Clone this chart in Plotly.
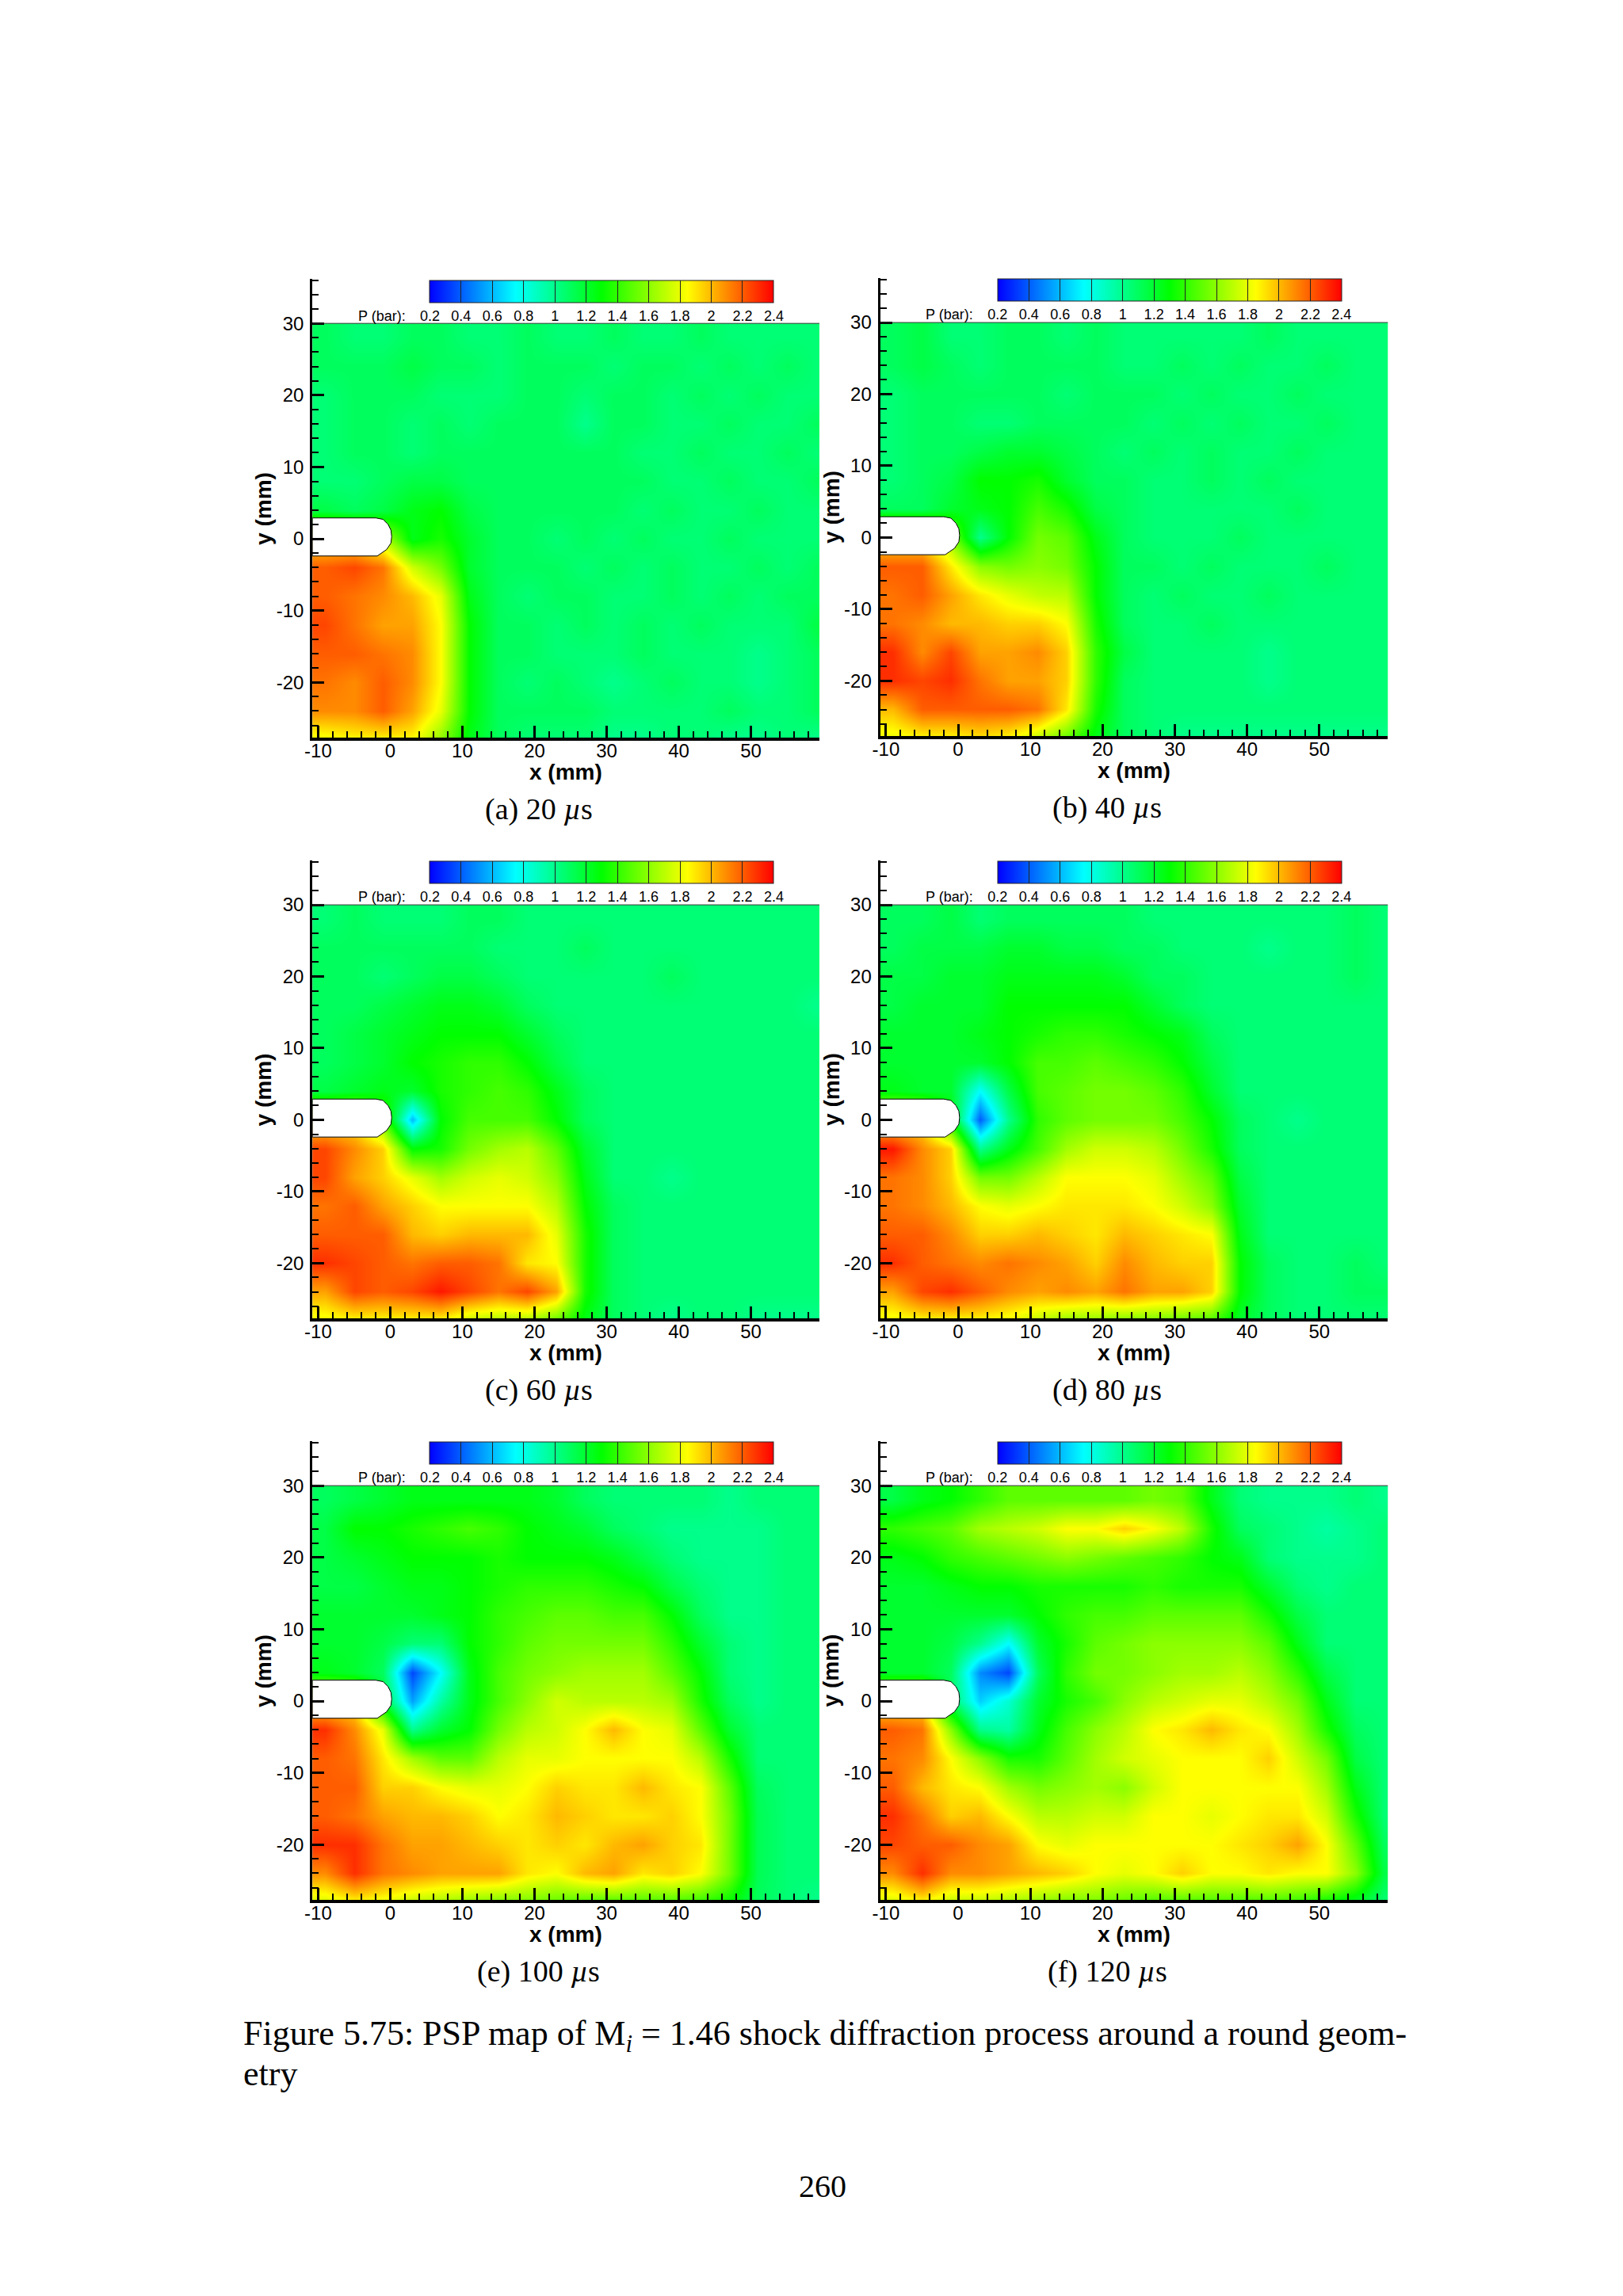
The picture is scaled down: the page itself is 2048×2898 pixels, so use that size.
import plotly.graph_objects as go

# page size, the browser adds a margin around the figure (offsets measured from the first render)
PAGE_W = 2032
PAGE_H = 2882
PAD_X = 15
PAD_Y = 8

# grid centres of the pressure maps (mm), rows go top to bottom
X_MM = [-9, -5, -1, 3, 7, 11, 15, 19, 23, 27, 31, 35, 39, 43, 47, 51, 55, 59]
Y_MM = [28, 24, 20, 16, 12, 8, 4, 0, -4, -8, -12, -16, -20, -24, -28]

#P (bar) (a) 20 us
P_20US = [
    [1.1, 1.05, 1.05, 1.1, 1.1, 1.05, 1.05, 1.1, 1.05, 1.05, 1.1, 1.05, 1.05, 1.1, 1.05, 1.05, 1.05, 1.05],
    [1.1, 1.1, 1.1, 1.15, 1.1, 1.1, 1.05, 1.1, 1.1, 1.1, 1.05, 1.1, 1.1, 1.05, 1.1, 1.05, 1.1, 1.05],
    [1.05, 1.1, 1.1, 1.1, 1.05, 1.05, 1.05, 1.1, 1.1, 1.05, 1.1, 1.1, 1.05, 1.1, 1.05, 1.1, 1.05, 1.05],
    [1.05, 1.1, 1.1, 1.05, 1.1, 1.05, 1.1, 1.1, 1.1, 1.0, 1.1, 1.1, 1.05, 1.05, 1.1, 1.05, 1.05, 1.1],
    [1.05, 1.1, 1.1, 1.05, 1.1, 1.1, 1.1, 1.1, 1.1, 1.1, 1.1, 1.05, 1.05, 1.1, 1.05, 1.05, 1.1, 1.05],
    [1.05, 1.05, 1.1, 1.15, 1.15, 1.1, 1.1, 1.1, 1.1, 1.1, 1.1, 1.1, 1.05, 1.05, 1.1, 1.05, 1.05, 1.1],
    [1.15, 1.1, 1.15, 1.25, 1.3, 1.15, 1.1, 1.1, 1.1, 1.1, 1.1, 1.05, 1.1, 1.05, 1.05, 1.1, 1.05, 1.05],
    [1.9, 1.9, 1.7, 1.25, 1.35, 1.2, 1.1, 1.1, 1.05, 1.1, 1.05, 1.1, 1.05, 1.05, 1.1, 1.05, 1.05, 1.05],
    [2.2, 2.25, 2.15, 1.75, 1.55, 1.2, 1.1, 1.1, 1.1, 1.05, 1.1, 1.05, 1.1, 1.05, 1.05, 1.1, 1.05, 1.1],
    [2.2, 2.15, 2.1, 2.0, 1.8, 1.25, 1.1, 1.05, 1.1, 1.1, 1.05, 1.05, 1.1, 1.05, 1.1, 1.05, 1.1, 1.1],
    [2.25, 2.15, 2.05, 2.05, 1.85, 1.3, 1.1, 1.1, 1.05, 1.1, 1.05, 1.1, 1.05, 1.1, 1.05, 1.05, 1.05, 1.15],
    [2.2, 2.2, 2.15, 2.1, 1.85, 1.3, 1.1, 1.1, 1.05, 1.05, 1.05, 1.1, 1.05, 1.05, 1.05, 1.0, 1.05, 1.1],
    [2.15, 2.1, 2.2, 2.1, 1.85, 1.3, 1.1, 1.05, 1.1, 1.05, 1.0, 1.05, 1.1, 1.05, 1.05, 1.0, 1.05, 1.1],
    [2.1, 2.1, 2.2, 2.05, 1.8, 1.3, 1.1, 1.1, 1.1, 1.1, 1.05, 1.05, 1.05, 1.05, 1.1, 1.05, 1.05, 1.1],
    [1.8, 1.85, 1.85, 1.85, 1.6, 1.25, 1.1, 1.05, 1.05, 1.05, 1.0, 1.0, 1.05, 1.05, 1.0, 1.0, 1.05, 1.0],
]

#P (bar) (b) 40 us
P_40US = [
    [1.1, 1.15, 1.05, 1.05, 1.1, 1.1, 1.05, 1.1, 1.05, 1.05, 1.05, 1.05, 1.05, 1.1, 1.05, 1.05, 1.05, 1.05],
    [1.1, 1.15, 1.1, 1.05, 1.1, 1.1, 1.1, 1.1, 1.05, 1.05, 1.1, 1.05, 1.1, 1.05, 1.05, 1.1, 1.05, 1.05],
    [1.05, 1.1, 1.1, 1.1, 1.1, 1.1, 1.05, 1.1, 1.1, 1.1, 1.05, 1.1, 1.05, 1.05, 1.1, 1.05, 1.05, 1.05],
    [1.05, 1.1, 1.1, 1.05, 1.05, 1.1, 1.1, 1.1, 1.1, 1.05, 1.1, 1.05, 1.1, 1.05, 1.05, 1.1, 1.05, 1.05],
    [1.05, 1.1, 1.1, 1.15, 1.2, 1.2, 1.15, 1.1, 1.05, 1.1, 1.05, 1.1, 1.05, 1.05, 1.1, 1.05, 1.05, 1.05],
    [1.05, 1.1, 1.15, 1.3, 1.3, 1.35, 1.2, 1.1, 1.1, 1.05, 1.05, 1.1, 1.05, 1.1, 1.05, 1.05, 1.05, 1.05],
    [1.1, 1.1, 1.2, 1.25, 1.3, 1.45, 1.35, 1.15, 1.1, 1.05, 1.05, 1.05, 1.05, 1.05, 1.1, 1.05, 1.05, 1.05],
    [1.9, 1.9, 1.6, 1.0, 1.3, 1.55, 1.5, 1.25, 1.1, 1.05, 1.05, 1.05, 1.1, 1.05, 1.05, 1.05, 1.05, 1.05],
    [2.2, 2.2, 1.9, 1.6, 1.55, 1.6, 1.55, 1.3, 1.1, 1.1, 1.05, 1.1, 1.05, 1.05, 1.05, 1.1, 1.05, 1.05],
    [2.15, 2.2, 2.05, 1.9, 1.8, 1.72, 1.7, 1.3, 1.1, 1.05, 1.1, 1.05, 1.05, 1.1, 1.05, 1.05, 1.05, 1.05],
    [2.15, 2.1, 2.0, 2.0, 1.95, 1.95, 1.85, 1.35, 1.1, 1.05, 1.05, 1.1, 1.05, 1.05, 1.05, 1.05, 1.05, 1.05],
    [2.3, 2.1, 2.25, 2.05, 2.05, 2.1, 1.95, 1.4, 1.15, 1.05, 1.05, 1.05, 1.05, 1.0, 1.05, 1.05, 1.05, 1.05],
    [2.3, 2.25, 2.3, 2.15, 2.05, 2.05, 1.95, 1.4, 1.1, 1.05, 1.05, 1.05, 1.05, 1.0, 1.05, 1.05, 1.05, 1.05],
    [2.0, 2.2, 2.2, 2.2, 2.2, 2.15, 1.9, 1.35, 1.1, 1.05, 1.05, 1.05, 1.05, 1.05, 1.05, 1.05, 1.05, 1.05],
    [1.8, 1.85, 1.85, 1.9, 1.85, 1.7, 1.5, 1.25, 1.1, 1.05, 1.0, 1.0, 1.0, 1.0, 1.0, 1.0, 1.0, 1.0],
]

#P (bar) (c) 60 us
P_60US = [
    [1.05, 1.1, 1.05, 1.05, 1.05, 1.1, 1.1, 1.05, 1.05, 1.05, 1.05, 1.05, 1.05, 1.05, 1.05, 1.05, 1.05, 1.05],
    [1.1, 1.1, 1.1, 1.1, 1.1, 1.1, 1.05, 1.05, 1.05, 1.1, 1.05, 1.05, 1.05, 1.05, 1.05, 1.05, 1.05, 1.05],
    [1.1, 1.1, 1.05, 1.1, 1.15, 1.15, 1.1, 1.05, 1.05, 1.05, 1.05, 1.05, 1.1, 1.05, 1.05, 1.05, 1.05, 1.05],
    [1.1, 1.1, 1.15, 1.2, 1.25, 1.25, 1.2, 1.1, 1.05, 1.05, 1.05, 1.05, 1.05, 1.05, 1.05, 1.05, 1.05, 1.0],
    [1.1, 1.15, 1.2, 1.25, 1.3, 1.3, 1.3, 1.2, 1.1, 1.05, 1.05, 1.05, 1.05, 1.05, 1.05, 1.05, 1.05, 1.05],
    [1.1, 1.15, 1.2, 1.3, 1.35, 1.4, 1.4, 1.3, 1.15, 1.05, 1.05, 1.05, 1.05, 1.05, 1.05, 1.05, 1.05, 1.05],
    [1.15, 1.2, 1.25, 1.2, 1.35, 1.4, 1.45, 1.4, 1.25, 1.1, 1.05, 1.05, 1.05, 1.05, 1.05, 1.05, 1.05, 1.05],
    [1.9, 1.9, 1.5, 0.6, 1.3, 1.45, 1.45, 1.45, 1.3, 1.1, 1.05, 1.05, 1.05, 1.05, 1.05, 1.05, 1.05, 1.05],
    [2.25, 2.1, 1.95, 1.3, 1.35, 1.55, 1.65, 1.7, 1.5, 1.2, 1.05, 1.05, 1.05, 1.05, 1.05, 1.05, 1.05, 1.05],
    [2.25, 2.05, 1.95, 1.8, 1.65, 1.75, 1.8, 1.75, 1.6, 1.25, 1.05, 1.05, 1.0, 1.05, 1.05, 1.05, 1.05, 1.05],
    [2.15, 2.2, 2.05, 1.95, 1.85, 1.85, 1.85, 1.85, 1.7, 1.3, 1.1, 1.05, 1.05, 1.05, 1.05, 1.05, 1.05, 1.05],
    [2.2, 2.2, 2.2, 2.0, 1.95, 2.0, 2.0, 2.0, 1.8, 1.35, 1.1, 1.05, 1.05, 1.05, 1.05, 1.05, 1.05, 1.05],
    [2.3, 2.25, 2.2, 2.15, 2.2, 2.2, 2.15, 1.9, 1.85, 1.35, 1.1, 1.05, 1.05, 1.05, 1.05, 1.05, 1.05, 1.05],
    [2.05, 2.25, 2.2, 2.25, 2.35, 2.25, 2.15, 2.25, 2.05, 1.35, 1.1, 1.05, 1.05, 1.05, 1.05, 1.05, 1.05, 1.05],
    [1.8, 1.85, 1.85, 1.85, 1.85, 1.7, 1.65, 1.65, 1.5, 1.25, 1.1, 1.05, 1.0, 1.05, 1.05, 1.0, 1.0, 1.0],
]

#P (bar) (d) 80 us
P_80US = [
    [1.1, 1.1, 1.15, 1.05, 1.1, 1.1, 1.1, 1.1, 1.1, 1.05, 1.05, 1.05, 1.05, 1.05, 1.05, 1.05, 1.1, 1.05],
    [1.1, 1.15, 1.15, 1.15, 1.2, 1.2, 1.15, 1.15, 1.1, 1.1, 1.05, 1.05, 1.05, 1.0, 1.05, 1.05, 1.1, 1.05],
    [1.15, 1.15, 1.2, 1.2, 1.25, 1.25, 1.25, 1.25, 1.2, 1.1, 1.1, 1.05, 1.05, 1.05, 1.05, 1.05, 1.1, 1.05],
    [1.15, 1.2, 1.2, 1.2, 1.3, 1.3, 1.3, 1.3, 1.3, 1.2, 1.1, 1.05, 1.05, 1.05, 1.05, 1.05, 1.05, 1.05],
    [1.2, 1.2, 1.2, 1.25, 1.3, 1.35, 1.4, 1.4, 1.35, 1.3, 1.25, 1.1, 1.05, 1.05, 1.05, 1.05, 1.05, 1.05],
    [1.2, 1.2, 1.2, 1.2, 1.3, 1.45, 1.45, 1.5, 1.45, 1.4, 1.3, 1.15, 1.05, 1.05, 1.05, 1.05, 1.05, 1.05],
    [1.25, 1.2, 1.2, 0.75, 1.15, 1.45, 1.5, 1.55, 1.55, 1.5, 1.4, 1.2, 1.05, 1.05, 1.05, 1.05, 1.05, 1.05],
    [1.9, 1.9, 1.3, 0.4, 1.0, 1.4, 1.5, 1.55, 1.55, 1.55, 1.45, 1.3, 1.1, 1.05, 1.0, 1.05, 1.05, 1.05],
    [2.35, 2.1, 1.95, 1.0, 1.25, 1.45, 1.65, 1.75, 1.75, 1.7, 1.55, 1.35, 1.1, 1.05, 1.05, 1.05, 1.05, 1.05],
    [2.15, 2.1, 1.95, 1.55, 1.55, 1.7, 1.85, 1.85, 1.85, 1.8, 1.65, 1.5, 1.15, 1.05, 1.05, 1.05, 1.05, 1.05],
    [2.15, 2.1, 2.0, 1.85, 1.8, 1.85, 1.9, 1.9, 1.9, 1.85, 1.75, 1.6, 1.2, 1.05, 1.05, 1.05, 1.05, 1.05],
    [2.2, 2.2, 2.1, 1.95, 1.95, 2.0, 1.95, 1.9, 2.0, 1.95, 1.9, 1.85, 1.25, 1.05, 1.05, 1.05, 1.05, 1.05],
    [2.3, 2.2, 2.15, 2.1, 2.15, 2.1, 2.05, 1.95, 2.1, 2.0, 1.95, 1.95, 1.3, 1.1, 1.05, 1.05, 1.1, 1.05],
    [2.05, 2.25, 2.3, 2.2, 2.1, 2.05, 2.1, 2.05, 2.15, 2.05, 2.05, 1.95, 1.3, 1.1, 1.05, 1.05, 1.1, 1.1],
    [1.8, 1.85, 1.85, 1.85, 1.8, 1.7, 1.6, 1.6, 1.55, 1.55, 1.5, 1.45, 1.2, 1.1, 1.05, 1.05, 1.05, 1.05],
]

#P (bar) (e) 100 us
P_100US = [
    [1.1, 1.15, 1.2, 1.25, 1.25, 1.25, 1.25, 1.25, 1.2, 1.1, 1.05, 1.05, 1.05, 1.05, 1.0, 1.05, 1.05, 1.05],
    [1.15, 1.3, 1.3, 1.35, 1.4, 1.45, 1.4, 1.3, 1.25, 1.2, 1.1, 1.05, 1.0, 1.0, 1.0, 1.0, 1.05, 1.05],
    [1.15, 1.2, 1.25, 1.3, 1.3, 1.3, 1.35, 1.3, 1.3, 1.3, 1.25, 1.15, 1.05, 1.0, 1.0, 1.0, 1.05, 1.05],
    [1.15, 1.15, 1.2, 1.25, 1.25, 1.3, 1.35, 1.4, 1.4, 1.4, 1.35, 1.3, 1.15, 1.05, 1.0, 1.0, 1.05, 1.05],
    [1.2, 1.2, 1.2, 1.2, 1.25, 1.3, 1.4, 1.45, 1.5, 1.5, 1.45, 1.45, 1.3, 1.1, 1.0, 1.0, 1.05, 1.05],
    [1.2, 1.2, 1.15, 1.05, 1.05, 1.3, 1.4, 1.5, 1.55, 1.55, 1.55, 1.55, 1.4, 1.2, 1.05, 1.0, 1.05, 1.05],
    [1.25, 1.2, 1.1, 0.35, 0.75, 1.25, 1.45, 1.55, 1.6, 1.65, 1.65, 1.65, 1.5, 1.3, 1.05, 1.0, 1.05, 1.05],
    [1.9, 1.9, 1.2, 0.55, 0.95, 1.25, 1.45, 1.6, 1.75, 1.7, 1.7, 1.7, 1.65, 1.35, 1.1, 1.0, 1.05, 1.05],
    [2.3, 2.1, 1.8, 1.0, 1.2, 1.3, 1.55, 1.7, 1.75, 1.85, 2.0, 1.85, 1.8, 1.5, 1.2, 1.05, 1.05, 1.05],
    [2.2, 2.15, 1.9, 1.65, 1.5, 1.5, 1.7, 1.8, 1.8, 1.85, 1.85, 1.85, 1.85, 1.7, 1.35, 1.05, 1.05, 1.05],
    [2.2, 2.2, 1.95, 1.95, 1.85, 1.8, 1.8, 1.85, 1.95, 1.9, 1.9, 2.0, 1.9, 1.85, 1.5, 1.1, 1.05, 1.05],
    [2.2, 2.15, 2.05, 2.0, 2.0, 1.95, 1.85, 1.9, 2.0, 1.95, 1.9, 1.9, 1.95, 1.85, 1.55, 1.12, 1.05, 1.05],
    [2.3, 2.3, 2.15, 2.05, 2.05, 2.0, 1.95, 1.9, 1.95, 1.9, 2.0, 2.05, 1.95, 1.9, 1.55, 1.12, 1.05, 1.05],
    [2.1, 2.3, 2.15, 2.1, 2.05, 2.05, 2.05, 1.9, 1.85, 2.0, 2.05, 1.9, 1.95, 1.85, 1.55, 1.12, 1.05, 1.05],
    [1.75, 1.85, 1.8, 1.7, 1.65, 1.6, 1.55, 1.55, 1.5, 1.45, 1.45, 1.45, 1.45, 1.4, 1.3, 1.1, 1.05, 1.0],
]

#P (bar) (f) 120 us
P_120US = [
    [1.15, 1.25, 1.3, 1.4, 1.5, 1.5, 1.5, 1.5, 1.5, 1.55, 1.5, 1.25, 1.05, 1.0, 1.0, 1.0, 1.05, 1.0],
    [1.4, 1.45, 1.5, 1.65, 1.7, 1.75, 1.85, 1.85, 1.95, 1.85, 1.7, 1.35, 1.1, 1.05, 1.0, 0.95, 1.0, 1.05],
    [1.25, 1.3, 1.4, 1.45, 1.5, 1.55, 1.6, 1.55, 1.5, 1.45, 1.4, 1.3, 1.25, 1.05, 1.0, 1.0, 1.0, 1.05],
    [1.2, 1.2, 1.25, 1.3, 1.3, 1.35, 1.35, 1.35, 1.35, 1.4, 1.35, 1.35, 1.35, 1.2, 1.05, 1.0, 1.05, 1.05],
    [1.2, 1.2, 1.2, 1.2, 1.2, 1.3, 1.4, 1.45, 1.45, 1.5, 1.5, 1.5, 1.5, 1.35, 1.15, 1.05, 1.05, 1.05],
    [1.2, 1.2, 1.15, 1.0, 0.75, 1.2, 1.35, 1.5, 1.55, 1.6, 1.6, 1.6, 1.6, 1.5, 1.25, 1.05, 1.05, 1.05],
    [1.2, 1.2, 1.1, 0.5, 0.35, 1.1, 1.4, 1.55, 1.55, 1.6, 1.65, 1.65, 1.7, 1.6, 1.4, 1.15, 1.05, 1.05],
    [1.9, 1.9, 1.1, 0.65, 0.85, 1.2, 1.35, 1.45, 1.6, 1.7, 1.75, 1.8, 1.8, 1.7, 1.55, 1.25, 1.05, 1.05],
    [2.2, 2.15, 1.6, 1.0, 0.95, 1.25, 1.45, 1.6, 1.7, 1.85, 1.9, 2.0, 1.9, 1.85, 1.65, 1.35, 1.1, 1.05],
    [2.15, 2.1, 1.85, 1.6, 1.35, 1.35, 1.5, 1.65, 1.75, 1.8, 1.85, 1.85, 1.85, 1.95, 1.75, 1.55, 1.15, 1.05],
    [2.2, 2.0, 1.9, 1.85, 1.65, 1.55, 1.6, 1.65, 1.6, 1.75, 1.85, 1.85, 1.85, 1.85, 1.85, 1.65, 1.25, 1.05],
    [2.3, 2.15, 1.95, 2.0, 1.85, 1.7, 1.7, 1.75, 1.75, 1.85, 1.85, 1.8, 1.85, 1.9, 1.9, 1.75, 1.35, 1.05],
    [2.25, 2.2, 2.2, 2.1, 2.05, 1.85, 1.8, 1.85, 1.85, 1.85, 1.85, 1.85, 1.9, 1.95, 2.05, 1.85, 1.5, 1.1],
    [2.1, 2.3, 2.1, 2.1, 2.05, 2.0, 1.95, 1.85, 1.8, 1.85, 1.95, 1.85, 1.85, 1.9, 1.85, 1.85, 1.6, 1.15],
    [1.75, 1.85, 1.7, 1.7, 1.65, 1.6, 1.55, 1.55, 1.5, 1.45, 1.45, 1.45, 1.45, 1.45, 1.4, 1.3, 1.2, 1.05],
]

# outline of the round geometry (mm)
BODY_X = [-10.8, -2, -1, -0.3, 0.1, 0.2, 0.1, -0.5, -1.8, -10.8, -10.8]
BODY_Y = [2.9, 2.9, 2.7, 2.0, 1.2, 0.3, -0.6, -1.5, -2.4, -2.4, 2.9]

X_TICKS = [-10, 0, 10, 20, 30, 40, 50]
Y_TICKS = [-20, -10, 0, 10, 20, 30]
CBAR_VALS = [0.2, 0.4, 0.6, 0.8, 1, 1.2, 1.4, 1.6, 1.8, 2, 2.2, 2.4]
CBAR_TEXT = ["0.2", "0.4", "0.6", "0.8", "1", "1.2", "1.4", "1.6", "1.8", "2", "2.2", "2.4"]

MAPS = [P_20US, P_40US, P_60US, P_80US, P_100US, P_120US]
CAPTIONS = ["(a) 20 <i>µ</i>s", "(b) 40 <i>µ</i>s", "(c) 60 <i>µ</i>s",
            "(d) 80 <i>µ</i>s", "(e) 100 <i>µ</i>s", "(f) 120 <i>µ</i>s"]

# panel boxes in page pixels: left, right, axis top, bottom
BOXES = [
    (393, 1036, 352, 931),
    (1113, 1757, 351, 929),
    (393, 1036, 1086, 1664),
    (1113, 1757, 1086, 1664),
    (393, 1036, 1819, 2398),
    (1113, 1757, 1819, 2398),
]
# colour bar top per panel
BAR_TOPS = [354, 352, 1087, 1087, 1820, 1820]

COLORS = [[0, "#0000ff"], [0.25, "#00ffff"], [0.5, "#00ff00"], [0.75, "#ffff00"], [1, "#ff0000"]]
SANS = "Liberation Sans"
SERIF = "Liberation Serif"


def px_x(px):
    return (px - PAD_X) / PAGE_W


def px_y(py):
    return 1 - (py - PAD_Y) / PAGE_H


def page_text(text, x, y, size, family=SERIF, xanchor="center", angle=0):
    fig.add_annotation(text=text, x=px_x(x), y=px_y(y), xref="paper", yref="paper", showarrow=False,
                       xanchor=xanchor, yanchor="middle", textangle=angle,
                       font=dict(family=family, size=size, color="black"))


fig = go.Figure()

for i, box in enumerate(BOXES):
    left, right, axis_top, bottom = box
    n = "" if i == 0 else str(i + 1)
    bar_left = left + 149

    fig.add_trace(go.Heatmap(
        x=X_MM, y=Y_MM, z=MAPS[i], xaxis="x" + n, yaxis="y" + n,
        colorscale=COLORS, zmin=0.2, zmax=2.4, zsmooth="best",
        colorbar=dict(orientation="h", x=px_x(bar_left), xanchor="left", y=px_y(BAR_TOPS[i]), yanchor="top",
                      len=434, lenmode="pixels", thickness=28, thicknessmode="pixels", xpad=0, ypad=0,
                      outlinecolor="#222222", outlinewidth=1, tickvals=CBAR_VALS, ticktext=CBAR_TEXT,
                      ticks="inside", ticklen=28, tickwidth=1, tickcolor="#222222",
                      tickfont=dict(family=SANS, size=18, color="black")),
    ))
    fig.add_trace(go.Scatter(
        x=BODY_X, y=BODY_Y, xaxis="x" + n, yaxis="y" + n, mode="lines", fill="toself",
        fillcolor="white", line=dict(color="black", width=1), showlegend=False, hoverinfo="skip",
    ))

    fig.update_layout({
        "xaxis" + n: dict(
            domain=[px_x(left), px_x(right)], range=[-10.8, 59.5], anchor="y" + n,
            tickvals=X_TICKS, ticktext=[str(t) for t in X_TICKS], ticks="inside", ticklen=15, tickwidth=3,
            tickcolor="black", showline=True, linecolor="black", linewidth=4, showgrid=False, zeroline=False,
            minor=dict(dtick=2, tick0=0, ticks="inside", ticklen=8, tickwidth=1.5, tickcolor="black", showgrid=False),
            tickfont=dict(family=SANS, size=24, color="black"), ticklabelstandoff=-8,
        ),
        "yaxis" + n: dict(
            domain=[px_y(bottom), px_y(axis_top)], range=[-27.7, 36.2], anchor="x" + n,
            tickvals=Y_TICKS, ticktext=[str(t) for t in Y_TICKS], ticks="inside", ticklen=15, tickwidth=3,
            tickcolor="black", showline=True, linecolor="black", linewidth=3, showgrid=False, zeroline=False,
            minor=dict(dtick=2, tick0=0, ticks="inside", ticklen=8, tickwidth=1.5, tickcolor="black", showgrid=False),
            tickfont=dict(family=SANS, size=24, color="black"), ticklabelstandoff=3,
        ),
    })
    # thin frame line along the top of the map
    fig.add_shape(type="line", xref="x" + n, yref="y" + n, x0=-10.8, x1=59.5, y0=30, y1=30,
                  line=dict(color="#333333", width=1))

    page_text("P (bar):", left + 88, BAR_TOPS[i] + 45, 18, SANS)
    page_text("<b>x (mm)</b>", (left + right) / 2, bottom + 43, 28, SANS)
    page_text("<b>y (mm)</b>", left - 62, (axis_top + bottom) / 2, 28, SANS, angle=-90)
    page_text(CAPTIONS[i], 680 if i % 2 == 0 else 1401, bottom + 90, 38)

page_text("Figure 5.75: PSP map of M<sub><i>i</i></sub> = 1.46 shock diffraction process around a round geom-",
          303, 2569, 44, xanchor="left")
page_text("etry", 303, 2617, 44, xanchor="left")
page_text("260", 1040, 2759, 40)

fig.update_layout(width=PAGE_W, height=PAGE_H, autosize=False, margin=dict(l=0, r=0, t=0, b=0),
                  paper_bgcolor="white", plot_bgcolor="white", showlegend=False)

fig.write_html("out.html")
